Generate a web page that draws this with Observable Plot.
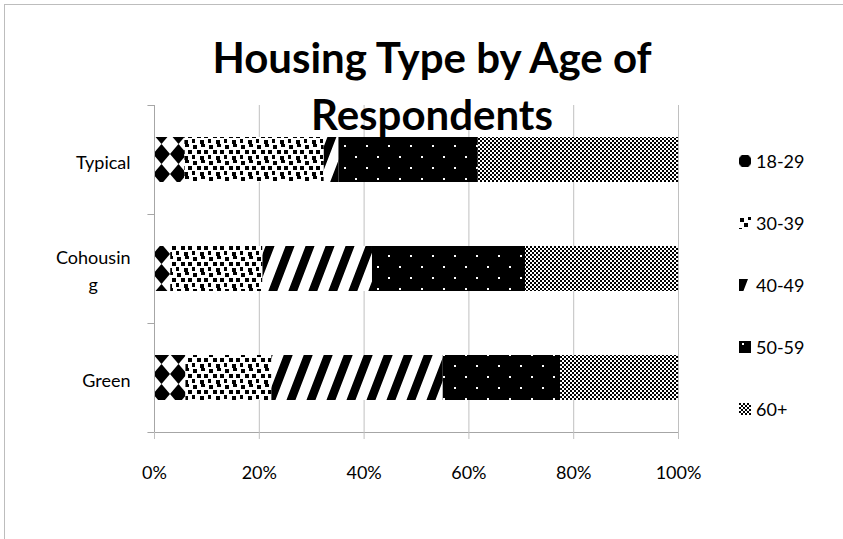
<!DOCTYPE html>
<html>
<head>
<meta charset="utf-8">
<script src="https://cdn.jsdelivr.net/npm/d3@7"></script>
<script src="https://cdn.jsdelivr.net/npm/@observablehq/plot@0.6"></script>
<style>
  html, body { margin: 0; padding: 0; background: #fff; overflow: hidden; }
  #chart { position: relative; width: 843px; height: 539px; font-family: Lato, "Open Sans", sans-serif; }
  #frame { position: absolute; left: 4px; top: 4px; width: 900px; height: 600px;
           border-top: 1px solid #bdbdbd; border-left: 1px solid #bdbdbd; }
  #title { position: absolute; left: 0; top: 29px; width: 864px; text-align: center;
           font-weight: bold; font-size: 42px; line-height: 57px; color: #000; pointer-events: none; }
  .legend-item { position: absolute; left: 739px; height: 20px; display: flex; align-items: center;
                 font-size: 18px; color: #000; }
  .legend-item svg { margin-right: 5px; }
  #defs { position: absolute; width: 0; height: 0; }
</style>
</head>
<body>
<svg id="defs" width="0" height="0">
  <defs>
    <!-- 18-29: large diamonds -->
    <pattern id="pat-0" patternUnits="userSpaceOnUse" width="17" height="20" x="0" y="4">
      <rect width="17" height="20" fill="#fff"/>
      <polygon points="8.5,0 17,10 8.5,20 0,10" fill="#000"/>
    </pattern>
    <!-- 30-39: scattered squares -->
    <pattern id="pat-1" patternUnits="userSpaceOnUse" width="16" height="16">
      <rect width="16" height="16" fill="#fff"/>
      <rect x="1" y="1" width="4" height="4" fill="#000"/>
      <rect x="9" y="0" width="4" height="3" fill="#000"/>
      <rect x="5" y="6" width="4" height="4" fill="#000"/>
      <rect x="12" y="6" width="4" height="4" fill="#000"/>
      <rect x="0" y="11" width="3" height="4" fill="#000"/>
      <rect x="8" y="12" width="4" height="4" fill="#000"/>
    </pattern>
    <!-- 40-49: wide upward diagonal stripes -->
    <pattern id="pat-2" patternUnits="userSpaceOnUse" width="20" height="20" patternTransform="skewX(-21)">
      <rect width="20" height="20" fill="#fff"/>
      <rect x="0" y="0" width="9" height="20" fill="#000"/>
    </pattern>
    <!-- 50-59: black with small white dots -->
    <pattern id="pat-3" patternUnits="userSpaceOnUse" width="22" height="22" x="3" y="2">
      <rect width="22" height="22" fill="#000"/>
      <rect x="0" y="0" width="2" height="2" fill="#fff"/>
      <rect x="11" y="11" width="2" height="2" fill="#fff"/>
    </pattern>
    <!-- 60+: small checkerboard -->
    <pattern id="pat-4" patternUnits="userSpaceOnUse" width="4" height="4">
      <rect width="4" height="4" fill="#fff"/>
      <rect x="0" y="0" width="2" height="2" fill="#000"/>
      <rect x="2" y="2" width="2" height="2" fill="#000"/>
      <rect x="1" y="1" width="1" height="1" fill="#000"/>
    </pattern>
  </defs>
</svg>
<div id="chart">
  <div id="frame"></div>
  <div id="title">Housing Type by Age of<br>Respondents</div>
</div>
<script>
// Housing types (top to bottom) and respondent age groups
const types = ["Typical", "Cohousing", "Green"];
const ages = ["18-29", "30-39", "40-49", "50-59", "60+"];

// Share of respondents (%) in each age group, per housing type
const typical = [5.8, 26.6, 2.8, 26.6, 38.2];
const cohousing = [3.1, 17.6, 20.9, 29.2, 29.2];
const green = [6.0, 16.4, 32.7, 22.4, 22.5];

// Percentage axis ticks
const xTicks = [0, 0.2, 0.4, 0.6, 0.8, 1];

const series = {Typical: typical, Cohousing: cohousing, Green: green};
const rows = types.flatMap(type => ages.map((age, i) => ({type, age, value: series[type][i]})));

const W = 843, H = 539;
const mTop = 105, mBottom = 107, mLeft = 154, mRight = 165;
const step = (H - mTop - mBottom) / types.length;
const axisGray = "#a6a6a6";
const gridGray = "#c0c0c0";

const chart = Plot.plot({
  width: W,
  height: H,
  marginTop: mTop,
  marginBottom: mBottom,
  marginLeft: mLeft,
  marginRight: mRight,
  style: {fontFamily: "Lato, 'Open Sans', sans-serif", fontSize: "18px", color: "#000", background: "transparent", overflow: "visible"},
  x: {domain: [0, 1]},
  y: {domain: types, paddingInner: 0.59, paddingOuter: 0.295},
  color: {domain: ages, range: ages.map((a, i) => `url(#pat-${i})`)},
  marks: [
    Plot.ruleX(xTicks, {stroke: gridGray}),
    Plot.barX(rows, Plot.stackX({offset: "normalize", x: "value", y: "type", fill: "age"})),
    Plot.ruleX([0], {stroke: axisGray}),
    Plot.ruleY(types, {x1: -0.0125, x2: 0, dy: -step / 2, stroke: axisGray}),
    Plot.ruleY([types[types.length - 1]], {x1: -0.0125, x2: 1, dy: step / 2, stroke: axisGray}),
    Plot.axisX({ticks: xTicks, tickSize: 7, tickPadding: 27, stroke: gridGray, label: null,
                tickFormat: d3.format(".0%"), fontSize: 18}),
    Plot.axisY({tickSize: 0, tickPadding: 24, lineHeight: 1.5, fontSize: 18, label: null,
                tickFormat: d => d === "Cohousing" ? "Cohousin\ng" : d})
  ]
});

const host = document.getElementById("chart");
chart.style.position = "absolute";
chart.style.left = "0";
chart.style.top = "0";
host.insertBefore(chart, document.getElementById("title"));

// Centre the wrapped lines of a multi-line category label within its block
chart.querySelectorAll("text").forEach(t => {
  const spans = t.querySelectorAll("tspan");
  if (spans.length > 1) {
    const w = Math.max(...Array.from(spans, s => s.getComputedTextLength()));
    t.setAttribute("text-anchor", "middle");
    spans.forEach(s => s.setAttribute("x", -w / 2));
  }
});

// Legend: a small patch of each fill pattern beside its label
const legendY = [161, 223, 285, 347, 409];
const swatchView = ["2.5 8 12 12", "0 0 12 12", "0 0 12 12", "0 0 12 12", "0 0 12 12"];
ages.forEach((age, i) => {
  const item = document.createElement("div");
  item.className = "legend-item";
  item.style.top = (legendY[i] - 10) + "px";
  const [vx, vy] = swatchView[i].split(" ").map(Number);
  item.innerHTML = `<svg width="12" height="12" viewBox="${swatchView[i]}"><rect x="${vx}" y="${vy}" width="12" height="12" fill="url(#pat-${i})"/></svg><span>${age}</span>`;
  host.appendChild(item);
});
</script>
</body>
</html>
